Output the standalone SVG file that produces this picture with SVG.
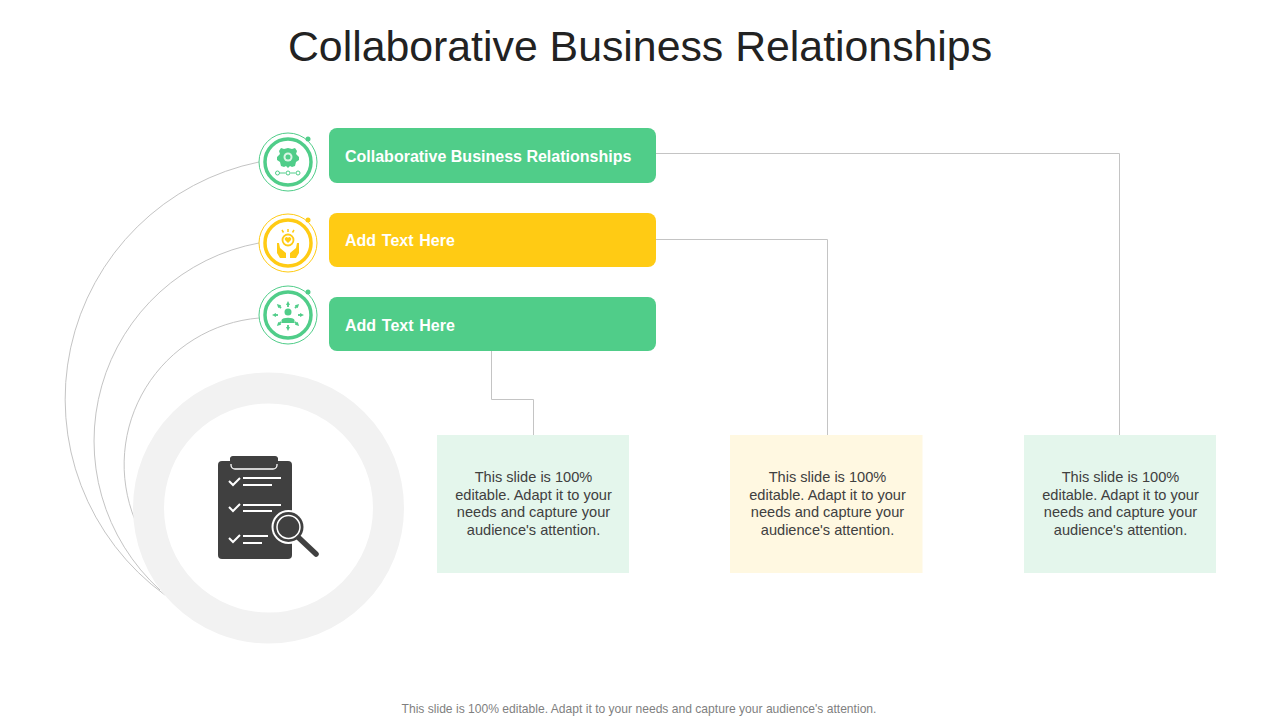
<svg xmlns="http://www.w3.org/2000/svg" width="1280" height="720" viewBox="0 0 1280 720">
<defs>
<marker id="ah" viewBox="0 0 4 4" refX="1" refY="2" markerWidth="2.200" markerHeight="2.200" orient="auto"><path d="M0 0L4 2L0 4z" fill="#50cd89"/></marker>
</defs>
<style>
text{font-family:"Liberation Sans",Arial,sans-serif}
.title{font-size:42.8px;fill:#222;text-anchor:middle}
.lbl{font-size:16px;font-weight:700;fill:#fff}
.short{word-spacing:1.300px}
.body{font-size:14.6px;fill:#404040;text-anchor:middle}
.foot{font-size:12.100px;fill:#7f7f7f;text-anchor:middle}
.conn{fill:none;stroke:#c4c4c4;stroke-width:1}
.g{fill:#50cd89}.y{fill:#ffcb14}
.rg{fill:none;stroke:#50cd89}.ry{fill:none;stroke:#ffcb14}
.dk{fill:#404040}.wl{fill:none;stroke:#fff;stroke-width:2}
</style>
<rect width="1280" height="720" fill="#fff"/>
<text class="title" x="640" y="61">Collaborative Business Relationships</text>
<g id="connectors">
<path class="conn" d="M259 162A242 242 0 0 0 165 595"/>
<path class="conn" d="M259 243A201.300 201.300 0 0 0 160 590"/>
<path class="conn" d="M259 318A147 147 0 0 0 135 520"/>
<path class="conn" d="M656 153.500H1119.500V435"/>
<path class="conn" d="M656 239.500H827.500V435"/>
<path class="conn" d="M491.500 351V399.500H533.500V435"/>
</g>
<g id="hub">
<circle cx="268.500" cy="508" r="120" fill="none" stroke="#f2f2f2" stroke-width="31"/>
<rect x="218" y="461" width="74" height="98" rx="4" class="dk"/>
<path d="M230 458a3 3 0 0 1 3-2h42a3 3 0 0 1 3 2v9a3 3 0 0 1-3 3h-42a3 3 0 0 1-3-3z" class="dk"/>
<path d="M231 464v1a4 4 0 0 0 4 4h38a4 4 0 0 0 4-4v-1" fill="none" stroke="#fff" stroke-width="1.300"/>
<path class="wl" d="M229 481l4 4 7-7M243 478H281M243 485H272M229 507l4 4 7-7M243 505H281M243 511H272M229 538l4 4 7-7M243 536H268M243 543H262"/>
<circle cx="288.500" cy="527" r="17" fill="#fff"/>
<circle cx="288.500" cy="527" r="15" class="dk"/>
<circle cx="288.500" cy="527" r="11.500" class="dk" stroke="#fff" stroke-width="1.500"/>
<path d="M299 538L316 554" stroke="#404040" stroke-width="5.500" stroke-linecap="round"/>
</g>
<g id="icon1">
<circle cx="288" cy="162" r="29" class="rg"/>
<circle cx="288" cy="162" r="23" class="rg" stroke-width="3.500"/>
<circle cx="308" cy="139" r="2.500" class="g"/>
<path class="g" d="M281 148l3 1 4-1 4 1 3-1 2 3-1 3 3 3v3l-3 2-1 4-3 1-2-1-2 2-2-2-2 1-3-1-1-4-3-2v-3l3-3-1-3z"/>
<circle cx="288" cy="157" r="4.500" fill="#d9f5e5"/>
<circle cx="288" cy="157" r="2.500" class="g"/>
<path class="rg" d="M279.500 173h6m5 0h5"/>
<circle cx="277.500" cy="173" r="2" class="rg"/><circle cx="288" cy="173" r="2" class="rg"/><circle cx="298" cy="173" r="2" class="rg"/>
</g>
<g id="node1">
<rect x="329" y="128" width="327" height="55" rx="8" class="g"/>
<text class="lbl" x="345" y="161.500">Collaborative Business Relationships</text>
</g>
<g id="icon2">
<circle cx="288" cy="243" r="29" class="ry"/>
<circle cx="288" cy="243" r="23" class="ry" stroke-width="3.500"/>
<circle cx="308" cy="220" r="2.500" class="y"/>
<circle cx="288" cy="240" r="5.500" class="ry" stroke-width="1.800"/>
<path class="y" d="M288 243l-3-3a1.800 1.800 0 0 1 3-2a1.800 1.800 0 0 1 3 2z"/>
<path class="ry" stroke-width="1.500" d="M288 229v3M282 230l1.500 2.500M294 230l-1.500 2.500"/>
<path class="y" d="M277 243l2 0 1 5 6 5v5h-6l-3-5zM299 243l-2 0-1 5-6 5v5h6l3-5z"/>
</g>
<g id="node2">
<rect x="329" y="213" width="327" height="54" rx="8" class="y"/>
<text class="lbl short" x="345" y="246">Add Text Here</text>
</g>
<g id="icon3">
<circle cx="288" cy="315" r="29" class="rg"/>
<circle cx="288" cy="315" r="23" class="rg" stroke-width="3.500"/>
<circle cx="308" cy="292" r="2.500" class="g"/>
<circle cx="288" cy="312" r="3.500" class="g"/>
<path class="g" d="M281.500 323v-3c1-3 12-3 13 0v3z"/>
<path class="rg" stroke-width="1.800" marker-end="url(#ah)" d="M288 307v-3"/>
<path class="rg" stroke-width="1.800" marker-end="url(#ah)" d="M288 325v3"/>
<path class="rg" stroke-width="1.800" marker-end="url(#ah)" d="M278 315h-3"/>
<path class="rg" stroke-width="1.800" marker-end="url(#ah)" d="M298 315h3"/>
<path class="rg" stroke-width="1.800" marker-end="url(#ah)" d="M281 308l-2-2"/>
<path class="rg" stroke-width="1.800" marker-end="url(#ah)" d="M295 308l2-2"/>
<path class="rg" stroke-width="1.800" marker-end="url(#ah)" d="M281 322l-2 2"/>
<path class="rg" stroke-width="1.800" marker-end="url(#ah)" d="M295 322l2 2"/>
</g>
<g id="node3">
<rect x="329" y="297" width="327" height="54" rx="8" class="g"/>
<text class="lbl short" x="345" y="330.500">Add Text Here</text>
</g>
<g id="box1">
<rect x="437" y="435" width="192" height="138" fill="#e4f6ec"/>
<text class="body"><tspan x="533.500" y="482">This slide is 100%</tspan><tspan x="533.500" y="500">editable. Adapt it to your</tspan><tspan x="533.500" y="517">needs and capture your</tspan><tspan x="533.500" y="535">audience's attention.</tspan></text>
</g>
<g id="box2">
<rect x="730" y="435" width="192.500" height="138" fill="#fff8e1"/>
<text class="body"><tspan x="827.500" y="482">This slide is 100%</tspan><tspan x="827.500" y="500">editable. Adapt it to your</tspan><tspan x="827.500" y="517">needs and capture your</tspan><tspan x="827.500" y="535">audience's attention.</tspan></text>
</g>
<g id="box3">
<rect x="1024" y="435" width="192" height="138" fill="#e4f6ec"/>
<text class="body"><tspan x="1120.500" y="482">This slide is 100%</tspan><tspan x="1120.500" y="500">editable. Adapt it to your</tspan><tspan x="1120.500" y="517">needs and capture your</tspan><tspan x="1120.500" y="535">audience's attention.</tspan></text>
</g>
<text class="foot" x="639" y="713">This slide is 100% editable. Adapt it to your needs and capture your audience's attention.</text>
</svg>
